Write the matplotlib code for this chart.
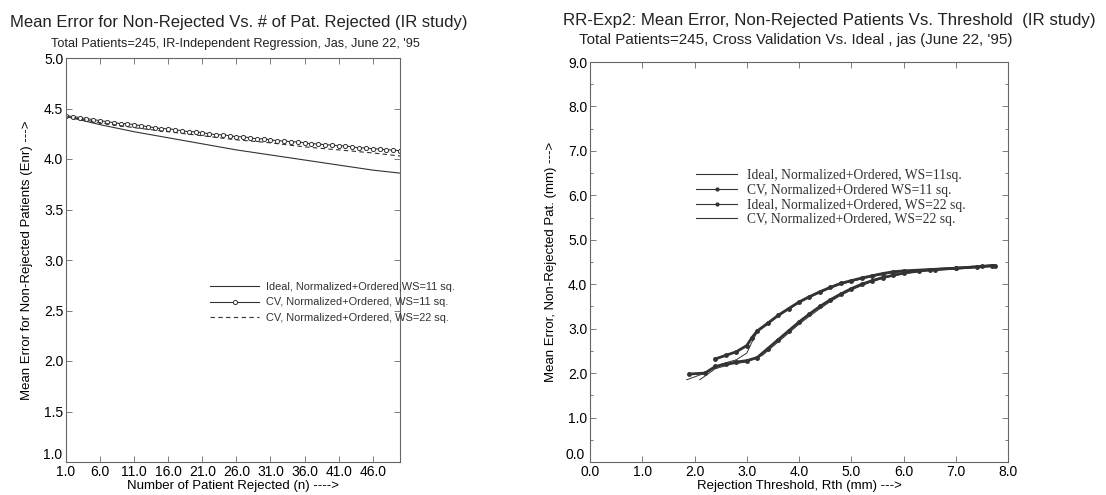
import numpy as np
import matplotlib.pyplot as plt
from matplotlib.ticker import MultipleLocator

plt.rcParams['font.family'] = ['Liberation Sans', 'DejaVu Sans']

# ---------- left panel: mean error vs number rejected ----------
n_cv11 = list(range(1, 51))
cv11_left = [4.43, 4.42, 4.41, 4.40, 4.39, 4.38, 4.37, 4.36, 4.35, 4.35,
             4.34, 4.33, 4.32, 4.31, 4.30, 4.30, 4.29, 4.28, 4.27, 4.27,
             4.26, 4.25, 4.24, 4.24, 4.23, 4.22, 4.22, 4.21, 4.20, 4.20,
             4.19, 4.18, 4.18, 4.17, 4.17, 4.16, 4.15, 4.15, 4.14, 4.14,
             4.13, 4.13, 4.12, 4.11, 4.11, 4.10, 4.10, 4.09, 4.09, 4.08]
n_coarse = [1, 6, 11, 16, 21, 26, 31, 36, 41, 46, 50]
ideal11_left = [4.42, 4.34, 4.27, 4.21, 4.15, 4.09, 4.04, 3.99, 3.94, 3.89, 3.86]
cv22_left = [4.42, 4.36, 4.31, 4.27, 4.23, 4.19, 4.16, 4.12, 4.09, 4.06, 4.03]

left_labels = ["Ideal, Normalized+Ordered,WS=11 sq.",
               "CV, Normalized+Ordered, WS=11 sq.",
               "CV, Normalized+Ordered, WS=22 sq."]

# ---------- right panel: mean error vs rejection threshold ----------
# upper band (WS=11)
rth_cv11 = [2.4, 2.6, 2.8, 3.0, 3.1, 3.2, 3.4, 3.6, 3.8, 4.0, 4.2, 4.4, 4.6,
            4.8, 5.0, 5.2, 5.4, 5.6, 5.8, 6.0, 6.5, 7.0, 7.5, 7.7]
cv11_right = [2.32, 2.40, 2.48, 2.62, 2.80, 2.95, 3.12, 3.30, 3.45, 3.60, 3.72,
              3.83, 3.93, 4.02, 4.08, 4.14, 4.19, 4.24, 4.28, 4.30, 4.33, 4.36,
              4.40, 4.42]
rth_ideal11 = [1.85, 2.2, 2.5, 2.8, 3.0, 3.1, 3.2, 3.4, 3.6, 3.8, 4.0, 4.2, 4.4,
               4.6, 4.8, 5.0, 5.2, 5.4, 5.6, 5.8, 6.0, 6.5, 7.0, 7.5, 7.75]
ideal11_right = [1.85, 2.00, 2.20, 2.30, 2.45, 2.70, 2.92, 3.10, 3.28, 3.43, 3.58,
                 3.70, 3.81, 3.91, 4.00, 4.06, 4.12, 4.17, 4.22, 4.26, 4.29,
                 4.32, 4.35, 4.39, 4.42]
# lower band (WS=22)
rth_ideal22 = [1.9, 2.2, 2.4, 2.6, 2.8, 3.0, 3.2, 3.4, 3.6, 3.8, 4.0, 4.2, 4.4,
               4.6, 4.8, 5.0, 5.2, 5.4, 5.6, 5.8, 6.0, 6.3, 6.6, 7.0, 7.4, 7.75]
ideal22_right = [1.98, 2.00, 2.15, 2.20, 2.25, 2.28, 2.35, 2.55, 2.75, 2.95, 3.15,
                 3.33, 3.50, 3.65, 3.78, 3.90, 4.00, 4.08, 4.15, 4.20, 4.25,
                 4.30, 4.33, 4.36, 4.39, 4.42]
rth_cv22 = [2.1, 2.4, 2.7, 3.0, 3.3, 3.6, 3.8, 4.0, 4.2, 4.4, 4.6, 4.8, 5.0,
            5.2, 5.4, 5.6, 5.8, 6.0, 6.5, 7.0, 7.5, 7.75]
cv22_right = [1.85, 2.10, 2.20, 2.25, 2.40, 2.70, 2.90, 3.10, 3.28, 3.45, 3.61,
              3.75, 3.87, 3.97, 4.06, 4.13, 4.19, 4.24, 4.31, 4.35, 4.39, 4.42]

right_labels = ["Ideal, Normalized+Ordered, WS=11sq.",
                "CV, Normalized+Ordered WS=11 sq.",
                "Ideal, Normalized+Ordered, WS=22 sq.",
                "CV, Normalized+Ordered, WS=22 sq."]

W, H = 1106, 495
fig = plt.figure(figsize=(W / 100, H / 100), dpi=100)
ink = "#333333"

def px_axes(l, r, t, b):
    return fig.add_axes([l / W, (H - b) / H, (r - l) / W, (b - t) / H])

def style(ax):
    for s in ax.spines.values():
        s.set_color("#666666")
        s.set_linewidth(0.8)
    ax.tick_params(direction="in", top=True, right=True, length=4,
                   width=0.6, color="#666666", labelsize=10, pad=2)

def corner_ylabels(ax, ymin):
    # lowest y label sits raised above the first x label, as in the print
    ax.yaxis.set_major_formatter(lambda v, p: "" if abs(v - ymin) < 1e-9 else f"{v:.1f}")
    ax.text(-0.012, 0.0, f"{ymin:.1f}", transform=ax.transAxes, ha="right",
            va="bottom", fontsize=10)

# ---- left ----
ax1 = px_axes(66, 400, 58, 462)
ax1.plot(n_coarse, ideal11_left, color=ink, lw=0.8, label=left_labels[0])
ax1.plot(n_cv11, cv11_left, color=ink, lw=0.8, marker="o", ms=3.0,
         mfc="white", mew=0.7, label=left_labels[1])
ax1.plot(n_coarse, cv22_left, color=ink, lw=0.8, ls=(0, (4, 3)),
         label=left_labels[2])
ax1.set_xlim(1, 50)
ax1.set_ylim(1.0, 5.0)
ax1.set_xticks(np.arange(1, 47, 5))
ax1.xaxis.set_major_formatter(lambda v, p: f"{v:.1f}")
ax1.yaxis.set_major_locator(MultipleLocator(0.5))
corner_ylabels(ax1, 1.0)
style(ax1)
ax1.set_xlabel("Number of Patient Rejected (n) ---->", fontsize=9.5, labelpad=1)
ax1.set_ylabel("Mean Error for Non-Rejected Patients (Enr) --->", fontsize=9.5,
               labelpad=8)
ax1.legend(loc="upper left", bbox_to_anchor=(200 / W, 1 - 272 / H),
           bbox_transform=fig.transFigure, frameon=False, fontsize=7.9,
           handlelength=4.5, labelspacing=0.5, handletextpad=0.6,
           labelcolor=ink)

# ---- right ----
ax2 = px_axes(590, 1008, 62, 462)
ax2.plot(rth_ideal11, ideal11_right, color=ink, lw=0.7, label=right_labels[0])
ax2.plot(rth_cv11, cv11_right, color=ink, lw=2.0, marker="o", ms=2.5,
         label=right_labels[1])
ax2.plot(rth_ideal22, ideal22_right, color=ink, lw=2.0, marker="o", ms=2.5,
         label=right_labels[2])
ax2.plot(rth_cv22, cv22_right, color=ink, lw=0.7, label=right_labels[3])
ax2.set_xlim(0, 8)
ax2.set_ylim(0, 9)
ax2.xaxis.set_major_locator(MultipleLocator(1))
ax2.yaxis.set_major_locator(MultipleLocator(1))
ax2.yaxis.set_minor_locator(MultipleLocator(0.5))
ax2.xaxis.set_major_formatter(lambda v, p: f"{v:.1f}")
corner_ylabels(ax2, 0.0)
style(ax2)
ax2.tick_params(which="minor", direction="in", right=True, length=2.5,
                width=0.6, color="#666666")
ax2.set_xlabel("Rejection Threshold, Rth (mm) --->", fontsize=9.5, labelpad=1)
ax2.set_ylabel("Mean Error, Non-Rejected Pat. (mm) --->", fontsize=9.5,
               labelpad=8)
leg2 = ax2.legend(loc="upper left", bbox_to_anchor=(684 / W, 1 - 157 / H),
                  bbox_transform=fig.transFigure, frameon=False,
                  handlelength=3.0, labelspacing=0.12, handletextpad=0.7,
                  prop={"family": "Liberation Serif", "size": 9.8},
                  labelcolor=ink, markerscale=0.8)
for h in leg2.legend_handles:
    h.set_linewidth(0.8)

# ---- titles ----
fig.text(10 / W, 1 - 22 / H,
         "Mean Error for Non-Rejected Vs. # of Pat. Rejected (IR study)",
         fontsize=12, color="#222222", va="center", ha="left")
fig.text(235 / W, 1 - 44 / H,
         "Total Patients=245, IR-Independent Regression, Jas, June 22, '95",
         fontsize=9.1, color="#222222", va="center", ha="center")
fig.text(563 / W, 1 - 20 / H,
         "RR-Exp2: Mean Error, Non-Rejected Patients Vs. Threshold  (IR study)",
         fontsize=12.2, color="#222222", va="center", ha="left")
fig.text(796 / W, 1 - 40 / H,
         "Total Patients=245, Cross Validation Vs. Ideal , jas (June 22, '95)",
         fontsize=10.9, color="#222222", va="center", ha="center")

fig.savefig("out.png", dpi=100)
